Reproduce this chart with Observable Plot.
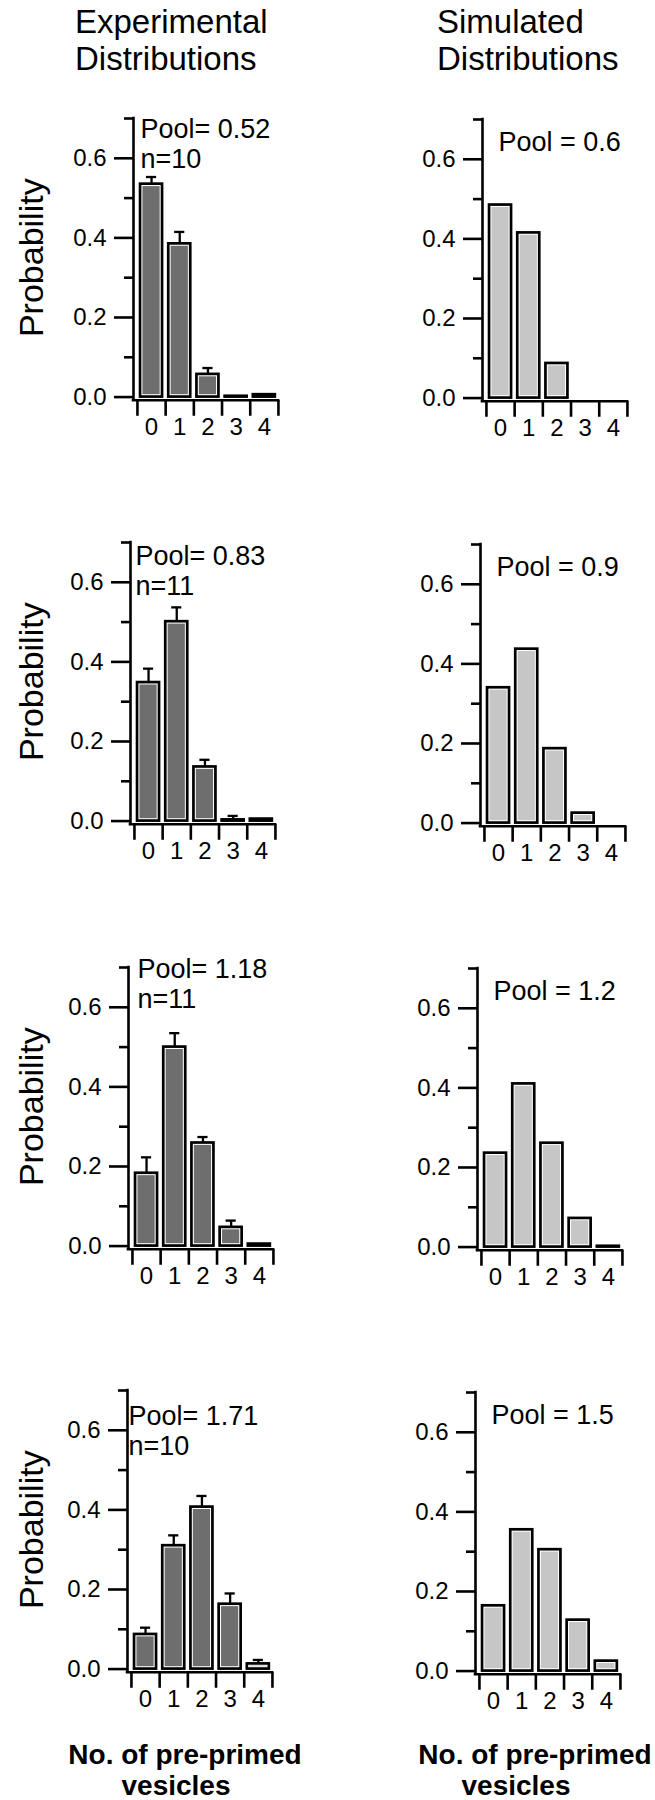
<!DOCTYPE html>
<html>
<head>
<meta charset="utf-8">
<script src="https://cdn.jsdelivr.net/npm/d3@7"></script>
<script src="https://cdn.jsdelivr.net/npm/@observablehq/plot@0.6"></script>
<style>
  html, body { margin: 0; padding: 0; background: #fff; }
  #page { position: relative; width: 655px; height: 1800px; overflow: hidden; background: #fff;
          font-family: "Liberation Sans", Arial, Helvetica, sans-serif; color: #000; }
  .panel { position: absolute; }
  #overlay { position: absolute; left: 0; top: 0; pointer-events: none; }
</style>
</head>
<body>
<div id="page"></div>
<script>
// ---------------- DATA ----------------
const categories = [0, 1, 2, 3, 4];
const boundaries = [-0.5, 0.5, 1.5, 2.5, 3.5, 4.5];
const majorTicks = [0, 0.2, 0.4, 0.6];
const minorTicks = [0.1, 0.3, 0.5, 0.7];

const expPools = ["0.52", "0.83", "1.18", "1.71"];
const expCounts = [10, 11, 11, 10];
const simPools = ["0.6", "0.9", "1.2", "1.5"];

const exp1Mean = [0.535, 0.385, 0.057, 0.002, 0.006];
const exp1Err  = [0.018, 0.030, 0.016, 0, 0];
const exp2Mean = [0.348, 0.501, 0.136, 0.003, 0.005];
const exp2Err  = [0.035, 0.036, 0.018, 0.010, 0];
const exp3Mean = [0.183, 0.500, 0.259, 0.047, 0.005];
const exp3Err  = [0.040, 0.035, 0.015, 0.017, 0];
const exp4Mean = [0.087, 0.310, 0.407, 0.163, 0.013];
const exp4Err  = [0.017, 0.026, 0.028, 0.027, 0.010];

const sim1Mean = [0.485, 0.415, 0.087, 0, 0];
const sim2Mean = [0.340, 0.437, 0.187, 0.025, 0];
const sim3Mean = [0.236, 0.410, 0.261, 0.072, 0.002];
const sim4Mean = [0.164, 0.355, 0.305, 0.128, 0.025];

const columnTitles = [["Experimental", "Distributions"], ["Simulated", "Distributions"]];
const xTitle = ["No. of pre-primed", "vesicles"];
const yTitle = "Probability";

// ---------------- LAYOUT ----------------
const FONT = '"Liberation Sans", Arial, Helvetica, sans-serif';
const PX_X = 28.2, PX_Y = 398;
const xMin = -0.64, xMax = 4.5, yMin = -0.008, yMax = 0.7;
const mL = 90, mR = 14, mT = 36, mB = 48;
const plotW = (xMax - xMin) * PX_X;
const plotH = (yMax - yMin) * PX_Y;
const HW = 0.39, CAP = 0.18;
const EXP_FILL = "#6e6e6e", SIM_FILL = "#c6c6c6";

// y-axis x position and y(0) position of each panel [experimental, simulated]
const axisX = [[133, 482], [130, 480], [128, 477], [127, 475]];
const zeroY = [[397, 398], [821, 823], [1246, 1247], [1669, 1671]];
// annotation offsets (dx from axis, baseline of last line below axis top)
const expTextDx = [7, 5, 9, 1];
const expTextDy = [50, 53, 41, 65];
const simTextDx = 16, simTextDy = 32;

const page = document.getElementById("page");

function makePanel(means, errs, fill, label, dx, dy, ax, y0) {
  const bars = categories.map((k, i) => ({k, p: means[i], e: errs ? errs[i] : 0}));
  const drawn = bars.filter(d => d.p > 0);
  const withErr = bars.filter(d => d.e > 0);
  const chart = Plot.plot({
    width: mL + plotW + mR,
    height: mT + plotH + mB,
    marginLeft: mL, marginRight: mR, marginTop: mT, marginBottom: mB,
    x: {domain: [xMin, xMax]},
    y: {domain: [yMin, yMax]},
    style: {background: "transparent", color: "black", fontFamily: FONT, fontSize: "24px", overflow: "visible"},
    marks: [
      Plot.rect(drawn, {x1: d => d.k - HW, x2: d => d.k + HW, y1: 0, y2: "p",
                        fill: "white", stroke: "black", strokeWidth: 2.7}),
      Plot.rect(drawn.filter(d => d.p > 0.012), {x1: d => d.k - HW, x2: d => d.k + HW, y1: 0, y2: "p",
                        fill, inset: 2.4}),
      Plot.ruleX(withErr, {x: "k", y1: "p", y2: d => d.p + d.e, strokeWidth: 2.3}),
      Plot.ruleY(withErr, {y: d => d.p + d.e, x1: d => d.k - CAP, x2: d => d.k + CAP, strokeWidth: 2.3}),
      Plot.ruleX([xMin], {y1: yMin, y2: yMax, strokeWidth: 2.6, strokeLinecap: "square"}),
      Plot.ruleY([yMin], {x1: xMin, x2: xMax, strokeWidth: 2.6, strokeLinecap: "square"}),
      Plot.axisY(majorTicks, {tickSize: 19, tickPadding: 8, tickFormat: d3.format(".1f"),
                              strokeWidth: 2.6, fontSize: 24, label: null}),
      Plot.axisY(minorTicks, {tickSize: 9, tickFormat: () => "", strokeWidth: 2.6, label: null}),
      Plot.axisX(boundaries, {tickSize: 16, tickFormat: () => "", strokeWidth: 2.6, label: null}),
      Plot.axisX(categories, {tickSize: 0, tickPadding: 18, fontSize: 24, label: null}),
      Plot.text([label], {frameAnchor: "top-left", textAnchor: "start", lineAnchor: "bottom",
                          dx, dy, fontSize: 27, lineHeight: 31 / 27, fill: "black"})
    ]
  });
  const div = document.createElement("div");
  div.className = "panel";
  div.style.left = (ax - mL) + "px";
  div.style.top = (y0 - mT - yMax * PX_Y) + "px";
  div.appendChild(chart);
  page.appendChild(div);
}

const expMeans = [exp1Mean, exp2Mean, exp3Mean, exp4Mean];
const expErrs = [exp1Err, exp2Err, exp3Err, exp4Err];
const simMeans = [sim1Mean, sim2Mean, sim3Mean, sim4Mean];

for (let r = 0; r < 4; r++) {
  makePanel(expMeans[r], expErrs[r], EXP_FILL,
            `Pool= ${expPools[r]}\nn=${expCounts[r]}`, expTextDx[r], expTextDy[r],
            axisX[r][0], zeroY[r][0]);
  makePanel(simMeans[r], null, SIM_FILL,
            `Pool = ${simPools[r]}`, simTextDx, simTextDy,
            axisX[r][1], zeroY[r][1]);
}

// ---------------- TITLES ----------------
const svg = d3.select(page).append("svg")
  .attr("id", "overlay").attr("width", 655).attr("height", 1800)
  .style("font-family", FONT);

const titleX = [75, 437];
const titleY = [33, 70];
columnTitles.forEach((lines, c) => {
  lines.forEach((t, i) => {
    svg.append("text").attr("x", titleX[c]).attr("y", titleY[i])
      .attr("font-size", 33).attr("fill", "black").text(t);
  });
});

const xTitleX = [[185, 176], [535, 516]];
const xTitleY = [1764, 1795];
xTitleX.forEach(xs => {
  xTitle.forEach((t, i) => {
    svg.append("text").attr("x", xs[i]).attr("y", xTitleY[i])
      .attr("text-anchor", "middle").attr("font-size", 28).attr("font-weight", "bold")
      .attr("fill", "black").text(t);
  });
});

zeroY.forEach(row => {
  const cy = row[0] - 0.35 * PX_Y;
  svg.append("text").attr("transform", `translate(43,${cy}) rotate(-90)`)
    .attr("text-anchor", "middle").attr("font-size", 34).attr("fill", "black").text(yTitle);
});
</script>
</body>
</html>
